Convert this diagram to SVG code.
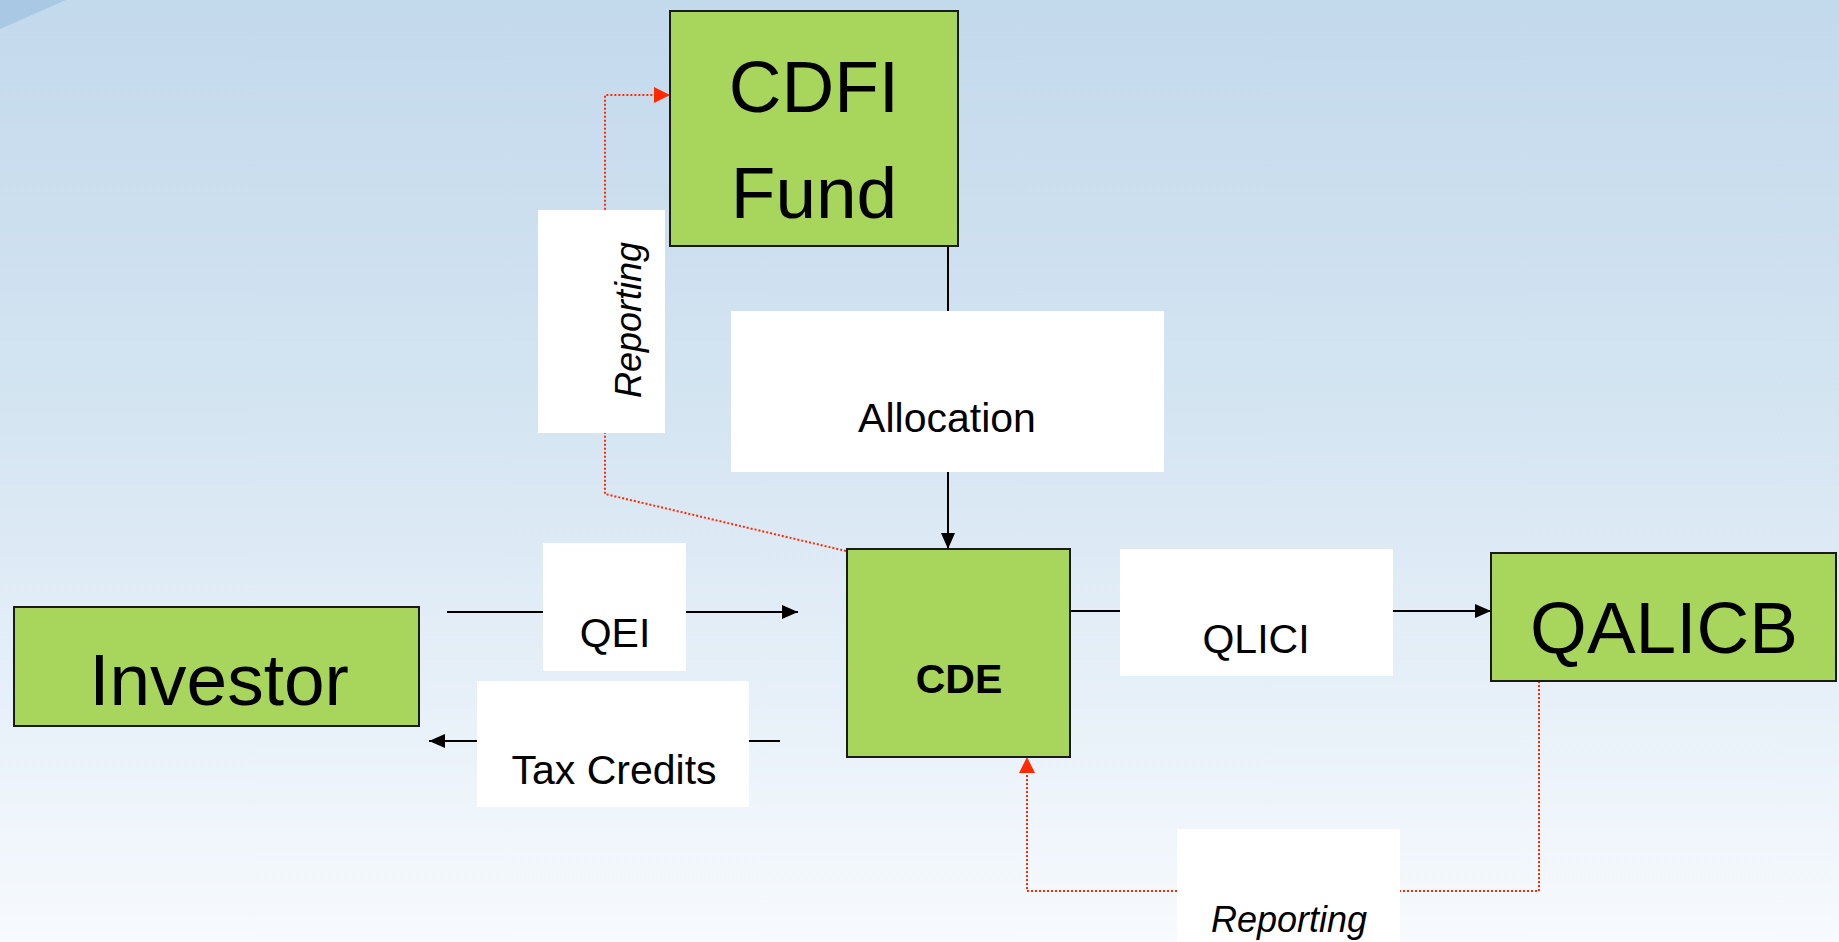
<svg xmlns="http://www.w3.org/2000/svg" width="1839" height="942" viewBox="0 0 1839 942">
<defs>
<linearGradient id="bg" x1="0" y1="0" x2="0" y2="1">
<stop offset="0" stop-color="#c3d9ec"/>
<stop offset="0.45" stop-color="#d5e5f2"/>
<stop offset="1" stop-color="#f7fafe"/>
</linearGradient>
<marker id="ab" markerUnits="userSpaceOnUse" markerWidth="16" markerHeight="14" refX="16" refY="7" orient="auto">
<path d="M0,0 L16,7 L0,14 z" fill="#000"/>
</marker>
<marker id="ar" markerUnits="userSpaceOnUse" markerWidth="16" markerHeight="16" refX="16" refY="8" orient="auto">
<path d="M0,0 L16,8 L0,16 z" fill="#ff2a00"/>
</marker>
<style>
.node{fill:#a8d65c;stroke:#1a1a1a;stroke-width:2}
.lbl{fill:#ffffff}
.big{font-family:"Liberation Sans",Arial,sans-serif;font-size:73px;fill:#000;text-anchor:middle}
.sm{font-family:"Liberation Sans",Arial,sans-serif;font-size:41px;fill:#000;text-anchor:middle}
.it{font-family:"Liberation Sans",Arial,sans-serif;font-size:36px;font-style:italic;fill:#000;text-anchor:middle}
.bl{stroke:#000;stroke-width:2;fill:none}
.rd{stroke:#ff2a00;stroke-width:2;stroke-dasharray:2,2;fill:none}
</style>
</defs>
<rect width="1839" height="942" fill="url(#bg)"/>
<path d="M0,0 L66,0 L0,29 z" fill="#a9c8e4"/>
<g id="connectors">
<line class="bl" x1="948" y1="245" x2="948" y2="549" marker-end="url(#ab)"/>
<line class="bl" x1="447" y1="612" x2="798" y2="612" marker-end="url(#ab)"/>
<line class="bl" x1="780" y1="741" x2="429" y2="741" marker-end="url(#ab)"/>
<line class="bl" x1="1070" y1="611" x2="1491" y2="611" marker-end="url(#ab)"/>
<polyline class="rd" points="846,551 605,494 605,95 670,95" marker-end="url(#ar)"/>
<polyline class="rd" points="1539,681 1539,891 1027,891 1027,757" marker-end="url(#ar)"/>
<g id="label-allocation"><rect class="lbl" x="731" y="311" width="433" height="161"/><text class="sm" x="947" y="432">Allocation</text></g>
<g id="label-reporting-top"><rect class="lbl" x="538" y="210" width="127" height="223"/><text class="it" transform="translate(641,320) rotate(-90)">Reporting</text></g>
<g id="label-qei"><rect class="lbl" x="543" y="543" width="143" height="128"/><text class="sm" x="615" y="647">QEI</text></g>
<g id="label-taxcredits"><rect class="lbl" x="477" y="681" width="272" height="126"/><text class="sm" x="614" y="784">Tax Credits</text></g>
<g id="label-qlici"><rect class="lbl" x="1120" y="549" width="273" height="127"/><text class="sm" x="1256" y="653">QLICI</text></g>
<g id="label-reporting-bottom"><rect class="lbl" x="1177" y="829" width="223" height="113"/><text class="it" x="1289" y="932">Reporting</text></g>
</g>
<g id="node-cdfi"><rect class="node" x="670" y="11" width="288" height="235"/><text class="big" x="814" y="112">CDFI</text><text class="big" x="814" y="218">Fund</text></g>
<g id="node-investor"><rect class="node" x="14" y="607" width="405" height="119"/><text class="big" x="219" y="705">Investor</text></g>
<g id="node-cde"><rect class="node" x="847" y="549" width="223" height="208"/><text class="sm" x="959" y="693" font-weight="bold">CDE</text></g>
<g id="node-qalicb"><rect class="node" x="1491" y="553" width="345" height="128"/><text class="big" x="1664" y="653">QALICB</text></g>
</svg>
